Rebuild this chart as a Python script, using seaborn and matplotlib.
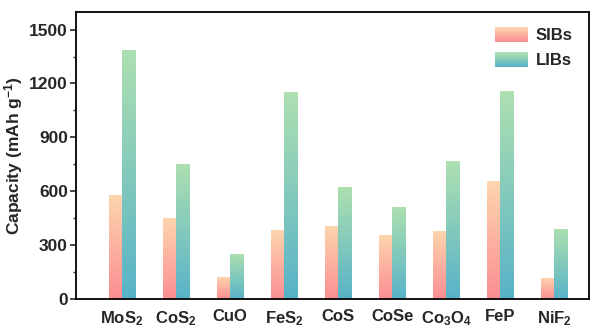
import numpy as np
import pandas as pd
import matplotlib
matplotlib.use("Agg")
import matplotlib.pyplot as plt
import seaborn as sns
from matplotlib.colors import LinearSegmentedColormap
from matplotlib.ticker import MultipleLocator
from matplotlib.patches import Rectangle
from matplotlib.legend_handler import HandlerBase

categories = ["MoS$_\\mathbf{2}$", "CoS$_\\mathbf{2}$", "CuO", "FeS$_\\mathbf{2}$", "CoS",
              "CoSe", "Co$_\\mathbf{3}$O$_\\mathbf{4}$", "FeP", "NiF$_\\mathbf{2}$"]
sibs = [579, 453, 125, 384, 405, 358, 382, 660, 121]
libs = [1386, 753, 253, 1151, 625, 514, 769, 1157, 390]
series = ["SIBs", "LIBs"]
grad_colors = {"SIBs": ("#FB8E93", "#FDD6AE"), "LIBs": ("#58B3C8", "#AEE0B0")}

sns.set_theme(style="white")
plt.rcParams["font.family"] = ["Liberation Sans", "DejaVu Sans"]
plt.rcParams["mathtext.fontset"] = "custom"
plt.rcParams["mathtext.rm"] = "Liberation Sans"
plt.rcParams["mathtext.bf"] = "Liberation Sans:bold"
plt.rcParams["mathtext.default"] = "bf"

df = pd.DataFrame({
    "cat": categories * 2,
    "val": sibs + libs,
    "series": ["SIBs"] * len(categories) + ["LIBs"] * len(categories),
})

fig = plt.figure(figsize=(6, 3.3), dpi=100)
ax = fig.add_axes([0.127, 0.093, 0.855, 0.872])
sns.barplot(data=df, x="cat", y="val", hue="series", hue_order=series,
            order=categories, width=0.5, ax=ax, legend=False, gap=0,
            palette={"SIBs": "#FDD6AE", "LIBs": "#AEE0B0"}, saturation=1)

cmaps = {k: LinearSegmentedColormap.from_list(k, list(v)) for k, v in grad_colors.items()}
grad = np.linspace(0, 1, 256).reshape(-1, 1)
for container, s in zip(ax.containers, series):
    for p in container.patches:
        x0, y0 = p.get_x(), p.get_y()
        w, h = p.get_width(), p.get_height()
        im = ax.imshow(grad, cmap=cmaps[s], aspect="auto", origin="lower",
                       extent=[x0, x0 + w, y0, y0 + h], zorder=p.get_zorder())
        im.set_clip_path(p)
        p.set_facecolor("none")
        p.set_edgecolor("none")

ax.set_xlim(-0.85, 8.65)
ax.set_ylim(0, 1600)
ax.yaxis.set_major_locator(MultipleLocator(300))
ax.yaxis.set_minor_locator(MultipleLocator(150))
ax.tick_params(axis="y", which="major", direction="out", length=4, width=1.2, left=True, labelsize=12.5, pad=2)
ax.tick_params(axis="y", which="minor", direction="out", length=2.5, width=1.0, left=True)
ax.tick_params(axis="x", length=0, labelsize=12, pad=7)
for lab in ax.get_xticklabels() + ax.get_yticklabels():
    lab.set_fontweight("bold")
ax.set_xlabel("")
ax.set_ylabel("Capacity (mAh g$^{\\mathbf{-1}}$)", fontsize=12.5, fontweight="bold", labelpad=3)
for sp in ax.spines.values():
    sp.set_visible(True)
    sp.set_color("black")
    sp.set_linewidth(1.3)


class GradHandler(HandlerBase):
    def create_artists(self, legend, orig_handle, xdescent, ydescent, width, height, fontsize, trans):
        s = orig_handle.get_label()
        n = 20
        arts = []
        for i in range(n):
            c = cmaps[s](i / (n - 1))
            r = Rectangle((-xdescent, -ydescent + height * i / n), width, height / n + 0.3,
                          facecolor=c, edgecolor="none", transform=trans)
            arts.append(r)
        return arts


handles = [Rectangle((0, 0), 1, 1, label=s) for s in series]
leg = ax.legend(handles=handles, labels=series, loc="upper right", frameon=False,
                handler_map={Rectangle: GradHandler()}, handlelength=2.0, handleheight=0.95,
                prop={"weight": "bold", "size": 12}, labelspacing=0.55, handletextpad=0.45,
                bbox_to_anchor=(0.997, 0.997))

fig.savefig("out.png", dpi=100)
